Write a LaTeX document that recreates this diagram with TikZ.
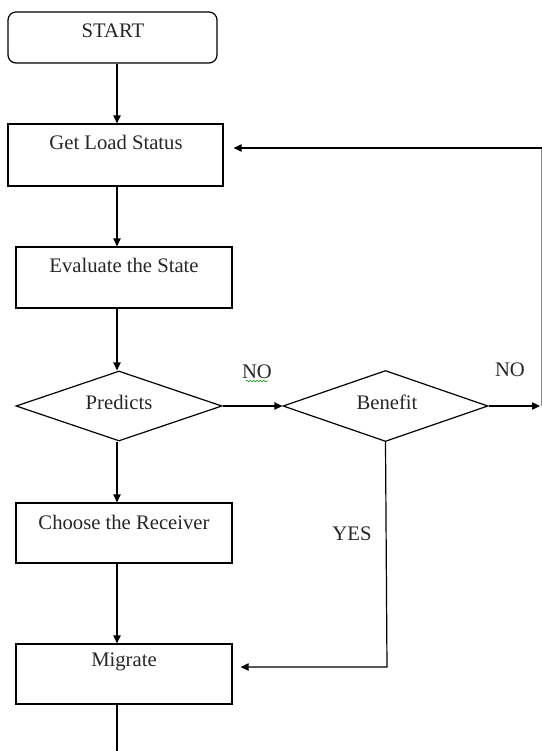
\documentclass[tikz,border=0pt]{standalone}
\usepackage{fontspec}
\setmainfont{Liberation Serif}
\usetikzlibrary{arrows.meta,shapes.geometric,decorations.pathmorphing}
\tikzset{
  lbl/.style={font=\fontsize{15.5}{18}\selectfont, inner sep=0pt, text=black!85},
  stepbox/.style={draw, line width=0.9pt, rectangle, inner sep=0pt, minimum width=162pt},
  decide/.style={draw, line width=0.9pt, diamond, inner sep=0pt},
  conn/.style={line width=0.9pt, -{Triangle[length=6pt,width=5.5pt]}},
  plain/.style={line width=0.9pt},
}
\begin{document}
\begin{tikzpicture}[x=0.75pt,y=-0.75pt]
\useasboundingbox (0,0) rectangle (542,751);
% boxes
\node[stepbox, rounded corners=6pt, minimum width=156.75pt, minimum height=38.25pt] (start) at (112.5,37.5) {};
\node[lbl] (tstart) at (113,31) {START};
\node[stepbox, minimum width=161.25pt, minimum height=46.5pt] (glb) at (115.5,155) {};
\node[lbl] (tglb) at (116,142) {Get Load Status};
\node[stepbox, minimum height=45.75pt] (eval) at (124,277.5) {};
\node[lbl] (teval) at (124,265) {Evaluate the State};
\node[decide, minimum width=154.5pt, minimum height=52.5pt] (pred) at (119,406) {};
\node[lbl] (tpred) at (119,402) {Predicts};
\node[decide, minimum width=153.75pt, minimum height=53.25pt] (ben) at (385.5,406) {};
\node[lbl] (tben) at (387,402) {Benefit};
\node[stepbox, minimum height=45pt] (choose) at (124,533) {};
\node[lbl] (tchoose) at (124,522) {Choose the Receiver};
\node[stepbox, minimum height=45pt] (mig) at (124,674) {};
\node[lbl] (tmig) at (124,662) {Migrate};
% labels
\node[lbl] (no1) at (257,372) {NO};
\draw[green!55!black, line width=0.4pt, decorate, decoration={snake, amplitude=0.6pt, segment length=2.5pt}] (246,381) -- (268,381);
\node[lbl] (no2) at (510,370) {NO};
\node[lbl] (yes) at (352,534) {YES};
% coordinates
\coordinate (ax) at (117,0);
\coordinate (noend) at (540,406);
\coordinate (loopb) at (541.8,406);
\coordinate (loopc) at (541.8,148);
\coordinate (yesc) at (387,667);
\coordinate (bot) at (117,751);
% connectors
\draw[conn] (start.south -| ax) -- (glb.north -| ax);
\draw[conn] (glb.south -| ax) -- (eval.north -| ax);
\draw[conn] (eval.south -| ax) -- (pred.north -| ax);
\draw[conn] (pred.south -| ax) -- (choose.north -| ax);
\draw[conn] (choose.south -| ax) -- (mig.north -| ax);
\draw[plain] (mig.south -| ax) -- (bot);
\draw[conn] (pred.east) -- (ben.west);
\draw[conn] (ben.east) -- (noend);
\draw[plain, black!45] (loopb) -- (loopc);
\draw[conn, shorten >=7.5pt] (loopc) -- (glb.east |- loopc);
\draw[conn, shorten >=6pt] (ben.south) -- (yesc) -- (mig.east |- yesc);
\end{tikzpicture}
\end{document}
